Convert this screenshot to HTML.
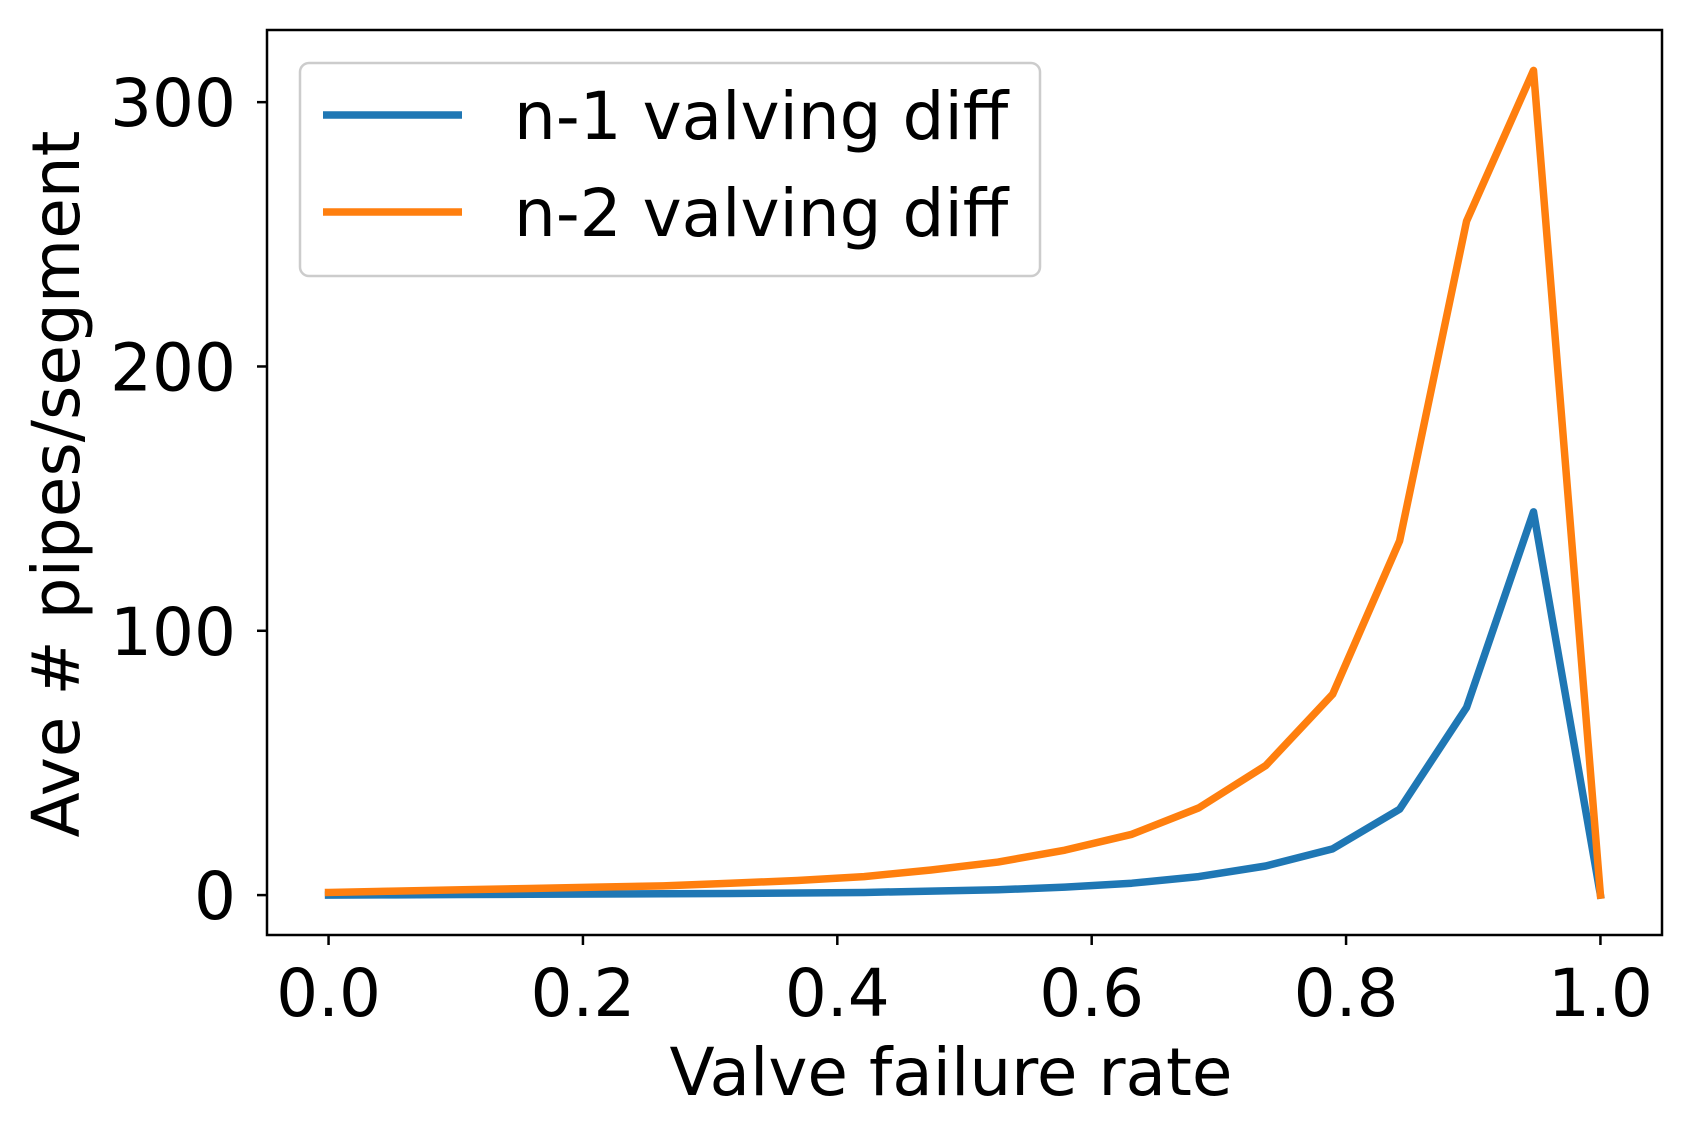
<!DOCTYPE html>
<html><head><meta charset="utf-8"><style>
html,body{margin:0;padding:0;background:#fff}
text{font-family:"DejaVu Sans","Liberation Sans",sans-serif;fill:#000}
</style></head><body>
<svg id="chart" width="1691" height="1139" viewBox="0 0 1691 1139" xmlns="http://www.w3.org/2000/svg">
<g id="plot"></g>
</svg>
<script>
const xValues=[0,1/19,2/19,3/19,4/19,5/19,6/19,7/19,8/19,9/19,10/19,11/19,12/19,13/19,14/19,15/19,16/19,17/19,18/19,1];
const n1Values=[0,0.1,0.2,0.3,0.4,0.5,0.6,0.8,1,1.5,2,3,4.5,7,11,17.5,32.5,71,145,0];
const n2Values=[1,1.5,2,2.5,3,3.5,4.5,5.5,7,9.5,12.5,17,23,33,49,76,134,255,312,0];
const xTicks=[0,0.2,0.4,0.6,0.8,1.0];
const xTickLabels=["0.0","0.2","0.4","0.6","0.8","1.0"];
const yTicks=[0,100,200,300];
const yTickLabels=["0","100","200","300"];
const seriesNames=["n-1 valving diff","n-2 valving diff"];

const L=267,R=1662,T=30,B=935;
const xMin=-0.0484,xMax=1.0484,yMin=-15.1,yMax=327.3;
const sx=v=>L+(v-xMin)/(xMax-xMin)*(R-L);
const sy=v=>B-(v-yMin)/(yMax-yMin)*(B-T);
const NS="http://www.w3.org/2000/svg";
const g=document.getElementById('plot');
function mk(tag,attrs,parent){const e=document.createElementNS(NS,tag);for(const k in attrs)e.setAttribute(k,attrs[k]);(parent||g).appendChild(e);return e;}

const colors=["#1f77b4","#ff7f0e"];
const FS=66;
[n1Values,n2Values].forEach((vals,si)=>{
  const d=vals.map((v,i)=>(i?'L':'M')+sx(xValues[i]).toFixed(2)+','+sy(v).toFixed(2)).join(' ');
  const p=mk('path',{d:d,fill:'none',stroke:colors[si],'stroke-width':7.5,'stroke-linejoin':'round','stroke-linecap':'square'});
  
  
});

const frame=mk('rect',{x:L,y:T,width:R-L,height:B-T,fill:'none',stroke:'#000','stroke-width':2.5});



xTicks.forEach((v,i)=>{
  const x=sx(v);
  const t=mk('line',{x1:x,x2:x,y1:B,y2:B+10,stroke:'#000','stroke-width':2.5});
  
  
  const lb=mk('text',{x:x,y:1016,'text-anchor':'middle','font-size':FS});
  lb.textContent=xTickLabels[i];
  
  
});
yTicks.forEach((v,i)=>{
  const y=sy(v);
  const t=mk('line',{x1:L-10,x2:L,y1:y,y2:y,stroke:'#000','stroke-width':2.5});
  
  
  const lb=mk('text',{x:236,y:y+24,'text-anchor':'end','font-size':FS});
  lb.textContent=yTickLabels[i];
  
  
});

const xl=mk('text',{x:951,y:1095,'text-anchor':'middle','font-size':FS});
xl.textContent='Valve failure rate';


const yl=mk('text',{x:0,y:0,'text-anchor':'middle','font-size':FS,transform:'translate(79,484) rotate(-90)'});
yl.textContent='Ave # pipes/segment';



const lg=mk('g',{});


mk('rect',{x:300,y:63,width:740,height:213,rx:9,fill:'#fff','fill-opacity':0.8,stroke:'#ccc','stroke-width':2.5},lg);
seriesNames.forEach((nm,i)=>{
  const y=115+i*97;
  const e=mk('g',{},lg);
  
  
  mk('line',{x1:323,x2:462,y1:y,y2:y,stroke:colors[i],'stroke-width':7.5},e);
  const t=mk('text',{x:514,y:y+24,'font-size':FS},e);
  t.textContent=nm;
});
</script>
</body></html>
